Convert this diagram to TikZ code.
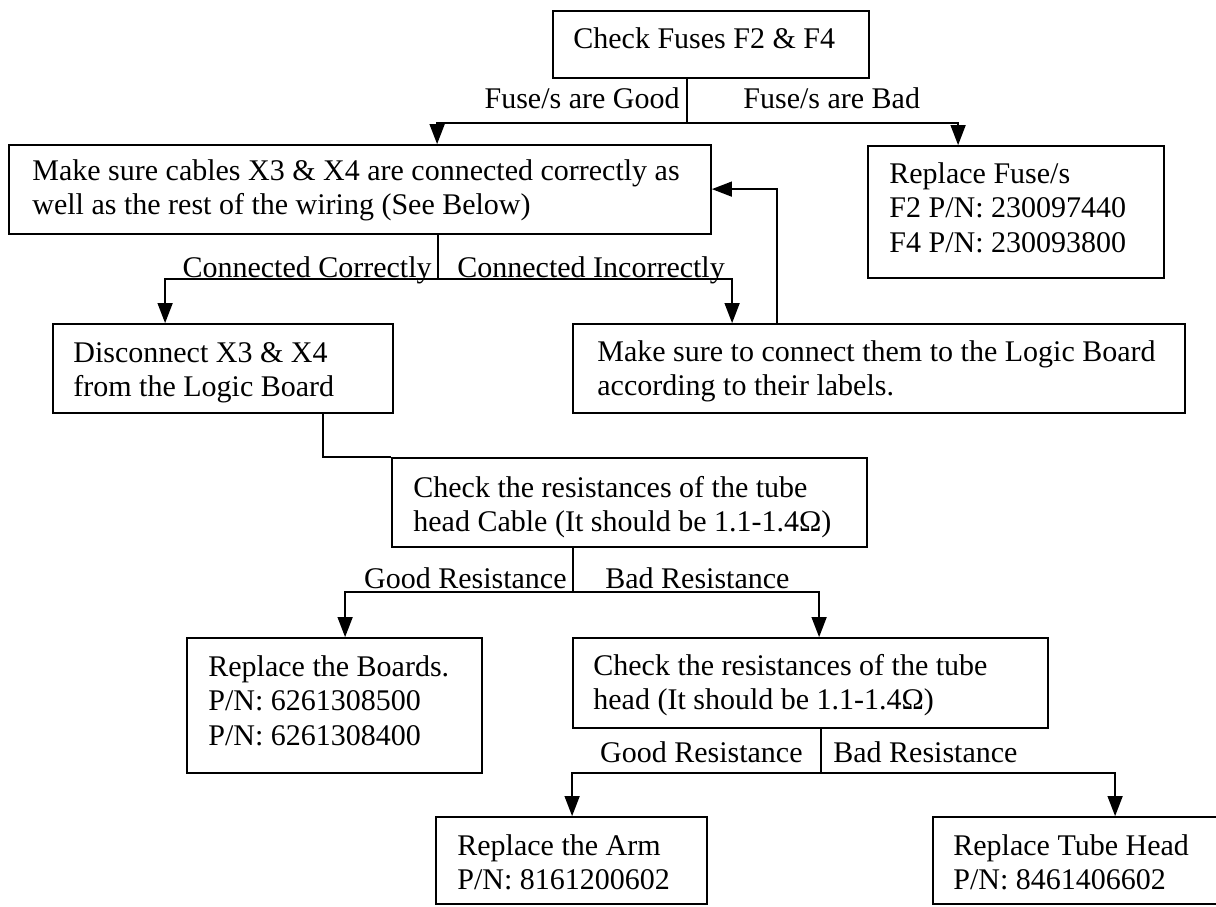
\documentclass[tikz,border=0pt]{standalone}
\usepackage{fontspec}
\setmainfont{Liberation Serif}
\usetikzlibrary{arrows.meta}
\begin{document}
\begin{tikzpicture}[x=0.5pt,y=-0.5pt,
  box/.style={draw=black,line width=0.9pt,rectangle,inner sep=0pt,minimum width=#1},
  box/.default=10pt,
  txt/.style={anchor=north west,inner sep=0pt,align=left,font=\fontsize{15pt}{17.25pt}\selectfont},
  lbl/.style={inner sep=0pt,font=\fontsize{15pt}{17.25pt}\selectfont},
  conn/.style={draw=black,line width=0.7pt},
  arr/.style={conn,-{Triangle[length=10pt,width=7.5pt]}}]
\useasboundingbox (0,0) rectangle (1216,906);
\clip (0,0) rectangle (1216,906);
% boxes
\node[box=158pt,minimum height=33.5pt] (A) at (711,44.5) {};
\node[box=351pt,minimum height=44.5pt] (B) at (360,189.5) {};
\node[box=148pt,minimum height=66pt] (C) at (1016,212) {};
\node[box=170pt,minimum height=44.5pt] (D) at (223,368.5) {};
\node[box=306pt,minimum height=44.5pt] (E) at (879,368.5) {};
\node[box=237.5pt,minimum height=44.5pt] (F) at (629.5,502.5) {};
\node[box=147.5pt,minimum height=67.5pt] (G) at (334.5,705.5) {};
\node[box=237.5pt,minimum height=45pt] (H) at (810.5,683) {};
\node[box=135.5pt,minimum height=43.5pt] (I) at (571.5,860.5) {};
\node[box=153.5pt,minimum height=43.5pt] (J) at (1086.5,860.5) {};
% box texts
\node[txt] (tA) at (573,23.85) {\strut Check Fuses F2 \& F4};
\node[txt] (tB) at (32,155.85) {\strut Make sure cables X3 \& X4 are connected correctly as\\well as the rest of the wiring (See Below)};
\node[txt] (tC) at (889,158.85) {\strut Replace Fuse/s\\F2 P/N: 230097440\\F4 P/N: 230093800};
\node[txt] (tD) at (73,337.85) {\strut Disconnect X3 \& X4\\from the Logic Board};
\node[txt] (tE) at (597,336.85) {\strut Make sure to connect them to the Logic Board\\according to their labels.};
\node[txt] (tF) at (413,472.85) {\strut Check the resistances of the tube\\head Cable (It should be 1.1-1.4Ω)};
\node[txt] (tG) at (208,651.85) {\strut Replace the Boards.\\P/N: 6261308500\\P/N: 6261308400};
\node[txt] (tH) at (593,650.85) {\strut Check the resistances of the tube\\head (It should be 1.1-1.4Ω)};
\node[txt] (tI) at (457,830.85) {\strut Replace the Arm\\P/N: 8161200602};
\node[txt] (tJ) at (953,830.85) {\strut Replace Tube Head\\P/N: 8461406602};
% branch labels
\node[lbl,anchor=base east] (l1) at (680,108) {Fuse/s are Good};
\node[lbl,anchor=base west] (l2) at (743,108) {Fuse/s are Bad};
\node[lbl,anchor=base east] (l3) at (432,277) {Connected Correctly};
\node[lbl,anchor=base west] (l4) at (457,277) {Connected Incorrectly};
\node[lbl,anchor=base east] (l5) at (567,588) {Good Resistance};
\node[lbl,anchor=base west] (l6) at (605,588) {Bad Resistance};
\node[lbl,anchor=base east] (l7) at (803,762) {Good Resistance};
\node[lbl,anchor=base west] (l8) at (833,762) {Bad Resistance};
% junctions
\coordinate (jA) at (687,123);
\coordinate (jB) at (438,279);
\coordinate (jF) at (573,592);
\coordinate (jH) at (821,773);
% connectors
\draw[conn] (A.south -| jA) -- (jA);
\draw[arr] (jA) -| ([xshift=214.5pt]B.north west);
\draw[arr] (jA) -| ([xshift=45.5pt]C.north west);
\draw[conn] (B.south -| jB) -- (jB);
\draw[arr] (jB) -| ([xshift=56.5pt]D.north west);
\draw[arr] (jB) -| ([xshift=80pt]E.north west);
\draw[arr] ([xshift=102.5pt]E.north west) |- ([yshift=-22.5pt]B.north east);
\draw[conn] ([xshift=135.5pt]D.south west) |- (F.north west);
\draw[conn] (F.south -| jF) -- (jF);
\draw[arr] (jF) -| ([xshift=79.5pt]G.north west);
\draw[arr] (jF) -| ([xshift=123.5pt]H.north west);
\draw[conn] (H.south -| jH) -- (jH);
\draw[arr] (jH) -| ([xshift=68.5pt]I.north west);
\draw[arr] (jH) -| ([xshift=91.5pt]J.north west);
\end{tikzpicture}
\end{document}
